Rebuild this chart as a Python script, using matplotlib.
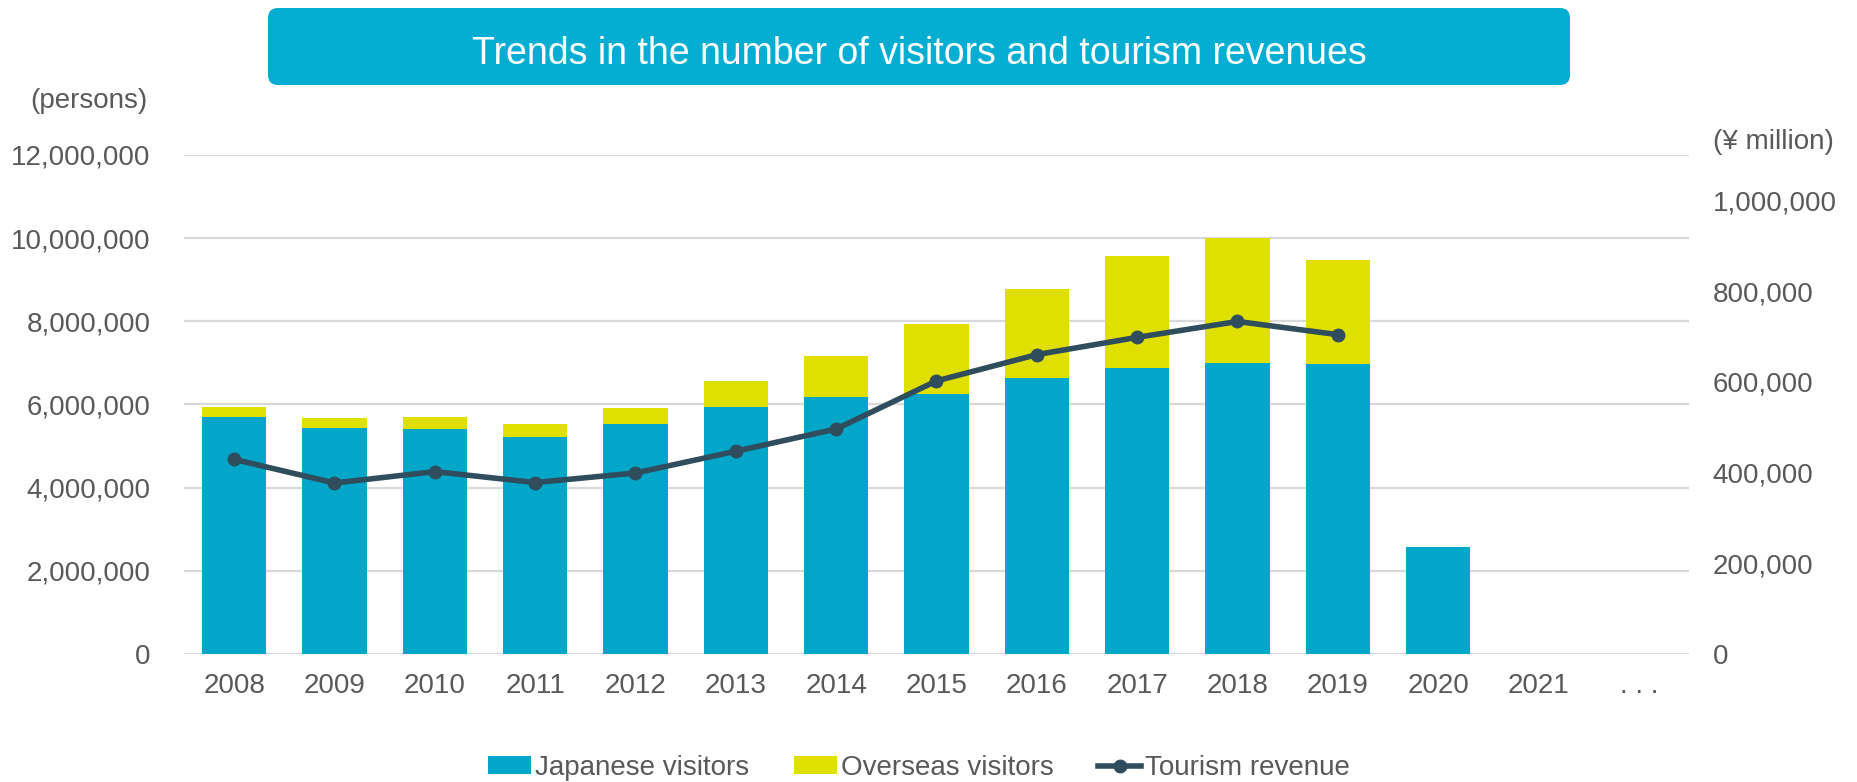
import matplotlib
matplotlib.use("Agg")
import matplotlib.pyplot as plt
from matplotlib.patches import FancyBboxPatch, Patch
from matplotlib.lines import Line2D
from matplotlib.ticker import FuncFormatter

plt.rcParams['font.family'] = ['Liberation Sans', 'DejaVu Sans']

# ---- data -------------------------------------------------------------
categories = ['2008', '2009', '2010', '2011', '2012', '2013', '2014',
              '2015', '2016', '2017', '2018', '2019', '2020', '2021', '. . .']

# visitors (persons)
japanese_visitors = [5690000, 5440000, 5410000, 5230000, 5530000, 5940000,
                     6180000, 6250000, 6630000, 6880000, 6990000, 6970000,
                     2580000]
overseas_visitors = [240000, 240000, 290000, 290000, 390000, 630000,
                     990000, 1690000, 2140000, 2690000, 3010000, 2500000]

# tourism revenue (million yen)
tourism_revenue = [429000, 377000, 402000, 378000, 399000, 447000,
                   496000, 602000, 660000, 698000, 733000, 704000]

left_ticks = [0, 2000000, 4000000, 6000000, 8000000, 10000000, 12000000]
right_ticks = [0, 200000, 400000, 600000, 800000, 1000000]

# ---- style ------------------------------------------------------------
BLUE = '#02A6C9'
YELLOW = '#E0E000'
LINE = '#2F4D5C'
GRID = '#D9D9D9'
TEXT = '#595959'
TITLE_BG = '#03AED2'
FS = 20

W, H = 1858, 782
fig = plt.figure(figsize=(W / 100, H / 100), dpi=100)

ax = fig.add_axes([184 / W, 1 - 654 / H, (1689 - 184) / W, (654 - 155) / H])
x_jp = list(range(len(japanese_visitors)))
x_ov = list(range(len(overseas_visitors)))
bar_w = 0.64

ax.bar(x_jp, japanese_visitors, width=bar_w, color=BLUE, zorder=2)
ax.bar(x_ov, overseas_visitors, width=bar_w, bottom=japanese_visitors[:len(x_ov)],
       color=YELLOW, zorder=2)

ax.set_xlim(-0.5, len(categories) - 0.5)
ax.set_ylim(0, 12000000)
ax.set_yticks(left_ticks)
ax.yaxis.set_major_formatter(FuncFormatter(lambda v, p: f'{v:,.0f}'))
ax.set_xticks(range(len(categories)))
ax.set_xticklabels(categories)
ax.grid(axis='y', color=GRID, linewidth=1.6)
ax.set_axisbelow(True)
for s in ax.spines.values():
    s.set_visible(False)
ax.tick_params(axis='both', length=0, labelsize=FS, labelcolor=TEXT)
ax.tick_params(axis='y', pad=24)
ax.tick_params(axis='x', pad=14)

# revenue on the secondary axis
ax2 = ax.twinx()
x_rev = list(range(len(tourism_revenue)))
ax2.plot(x_rev, tourism_revenue, color=LINE, linewidth=4, marker='o',
         markersize=9, zorder=3)
ax2.set_ylim(0, 1100000)
ax2.set_yticks(right_ticks)
ax2.yaxis.set_major_formatter(FuncFormatter(lambda v, p: f'{v:,.0f}'))
for s in ax2.spines.values():
    s.set_visible(False)
ax2.tick_params(axis='y', length=0, labelsize=FS, labelcolor=TEXT, pad=17)

# axis unit captions
fig.text(89 / W, 1 - 101 / H, '(persons)', ha='center', va='center',
         fontsize=FS, color=TEXT)
fig.text(1773 / W, 1 - 142 / H, '(\u00a5 million)', ha='center', va='center',
         fontsize=FS, color=TEXT)

# title banner
box = FancyBboxPatch((2.68, 7.82 - 0.85), 15.70 - 2.68, 0.77,
                     boxstyle='round,pad=0,rounding_size=0.1',
                     transform=fig.dpi_scale_trans, facecolor=TITLE_BG,
                     edgecolor='none')
fig.patches.append(box)
fig.text(919 / W, 1 - 54 / H, 'Trends in the number of visitors and tourism revenues',
         ha='center', va='center', fontsize=27, color='white')

# legend
handles = [Patch(facecolor=BLUE, edgecolor='none'),
           Patch(facecolor=YELLOW, edgecolor='none'),
           Line2D([], [], color=LINE, linewidth=4, marker='o', markersize=9)]
labels = ['Japanese visitors', 'Overseas visitors', 'Tourism revenue']
fig.legend(handles, labels, loc='center', bbox_to_anchor=(919 / W, 1 - 768 / H),
           ncol=3, frameon=False, fontsize=FS, labelcolor=TEXT,
           handlelength=1.55, handleheight=0.6, handletextpad=0.15,
           columnspacing=1.6)

fig.savefig('out.png', dpi=100)
